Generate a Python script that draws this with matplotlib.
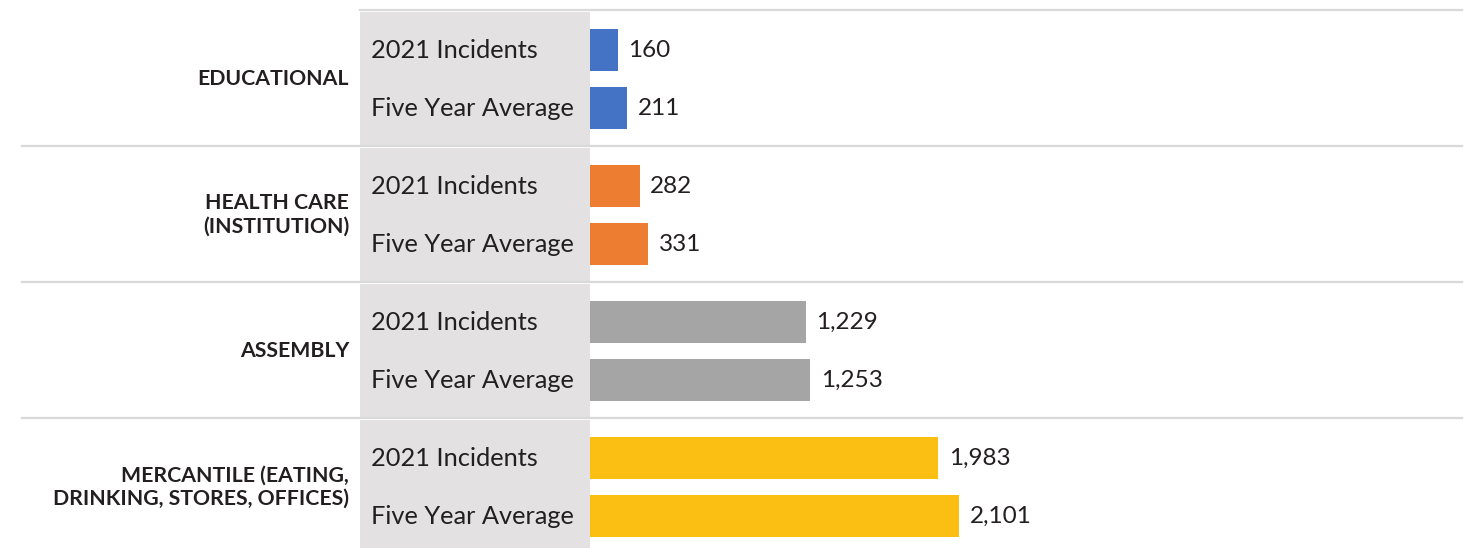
import numpy as np
import matplotlib.pyplot as plt
import matplotlib.transforms as mtransforms

# data
categories = ["EDUCATIONAL", "HEALTH CARE\n(INSTITUTION)", "ASSEMBLY",
              "MERCANTILE (EATING,\nDRINKING, STORES, OFFICES)"]
series = ["2021 Incidents", "Five Year Average"]
incidents_2021 = [160, 282, 1229, 1983]
five_year_avg = [211, 331, 1253, 2101]
colors = ["#4472C4", "#ED7D31", "#A5A5A5", "#FBBF14"]

W, H, DPI = 1477, 548, 100
px_per_unit = 0.1757       # bar length scale
x0_px = 590                # where the bars start

plt.rcParams['font.family'] = ['Lato', 'DejaVu Sans']

fig = plt.figure(figsize=(W / DPI, H / DPI), dpi=DPI)
ax = fig.add_axes([0, 0, 1, 1])
ax.set_xlim(-x0_px / px_per_unit, (W - x0_px) / px_per_unit)
ax.set_ylim(H, 0)  # y in pixels from top
ax.axis('off')

# x in figure pixels, y in data
trans = mtransforms.blended_transform_factory(
    mtransforms.Affine2D().scale(1 / W, 1).__add__(fig.transFigure), ax.transData)

group_top = 10
group_h = 136
bar_h = 42
offsets = [40, 98]
txt_col = "#231F20"

values = [incidents_2021, five_year_avg]
for g, cat in enumerate(categories):
    top = group_top + g * group_h
    bottom = min(top + group_h, H)
    # grey band behind series labels
    ax.fill_between([-230 / px_per_unit, 0], top + 1.5, bottom - 1.5 if g < 3 else bottom,
                    color="#E3E1E2", lw=0, zorder=0)
    # separator line
    left = 360 if g == 0 else 22
    ax.plot([(left - x0_px) / px_per_unit, (1462 - x0_px) / px_per_unit],
            [top, top], color="#D9D9D9", lw=1.6, zorder=1)
    ax.text(349, top + group_h / 2 + 1, cat, transform=trans, ha='right', va='center',
            fontsize=15.3, fontweight='bold', color=txt_col, linespacing=1.22)
    for k, s in enumerate(series):
        yc = top + offsets[k]
        v = values[k][g]
        ax.barh(yc, v, height=bar_h, color=colors[g], zorder=2)
        ax.text(371, yc + 0.8, s, transform=trans, ha='left', va='center',
                fontsize=18.3, color=txt_col)
        ax.annotate(f"{v:,}", (v, yc + 0.8), xytext=(7.5, 0), textcoords='offset points',
                    ha='left', va='center', fontsize=17.5, color=txt_col)

fig.savefig("out.png", dpi=DPI, facecolor="white")
